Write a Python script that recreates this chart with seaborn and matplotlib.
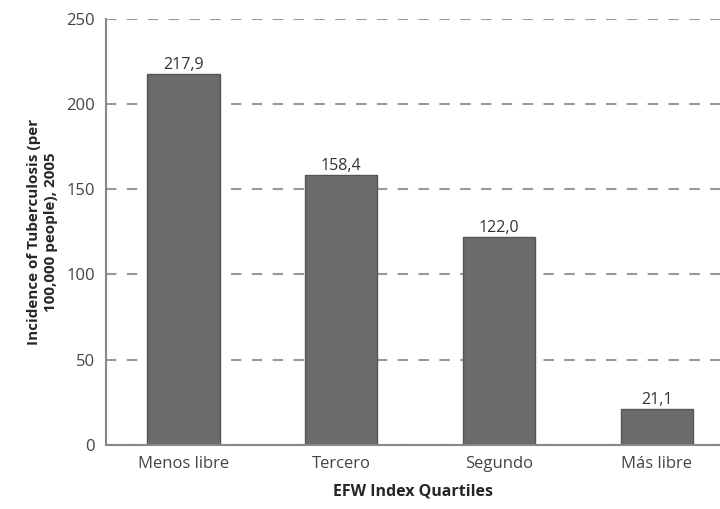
import matplotlib
matplotlib.use("Agg")
import matplotlib.pyplot as plt
import seaborn as sns
import pandas as pd

# datos del gráfico
quartiles = ["Menos libre", "Tercero", "Segundo", "Más libre"]
incidence = [217.9, 158.4, 122.0, 21.1]
value_labels = ["217,9", "158,4", "122,0", "21,1"]
y_ticks = [0, 50, 100, 150, 200, 250]

df = pd.DataFrame({"quartile": quartiles, "incidence": incidence})

sns.set_style("white")
plt.rcParams["font.family"] = ["Open Sans", "DejaVu Sans"]

fig = plt.figure(figsize=(7.2, 5.09), dpi=100)
ax = fig.add_axes([0.147, 0.126, 0.853, 0.837])

sns.barplot(data=df, x="quartile", y="incidence", color="#6b6b6b",
            saturation=1, width=0.46, edgecolor="#555555", linewidth=1, ax=ax)

for i, (v, lab) in enumerate(zip(incidence, value_labels)):
    ax.text(i, v + 0.5, lab, ha="center", va="bottom", fontsize=11.5, color="#333333")

ax.set_ylim(0, 250)
ax.set_xlim(-0.49, 3.4)
ax.set_yticks(y_ticks)
ax.yaxis.grid(True, linestyle=(0, (5, 5)), color="#999999", linewidth=1.5)
ax.set_axisbelow(True)

for s in ["top", "right"]:
    ax.spines[s].set_visible(False)
ax.spines["left"].set_color("#888888")
ax.spines["bottom"].set_color("#888888")
ax.spines["left"].set_linewidth(1.5)
ax.spines["bottom"].set_linewidth(1.5)

ax.tick_params(axis="both", length=0, labelsize=12, labelcolor="#444444", pad=8)
ax.set_xlabel("EFW Index Quartiles", fontsize=11.5, fontweight="bold", labelpad=8)
ax.set_ylabel("Incidence of Tuberculosis (per\n100,000 people), 2005", fontsize=11,
              fontweight="bold", labelpad=6)

fig.savefig("out.png", dpi=100)
